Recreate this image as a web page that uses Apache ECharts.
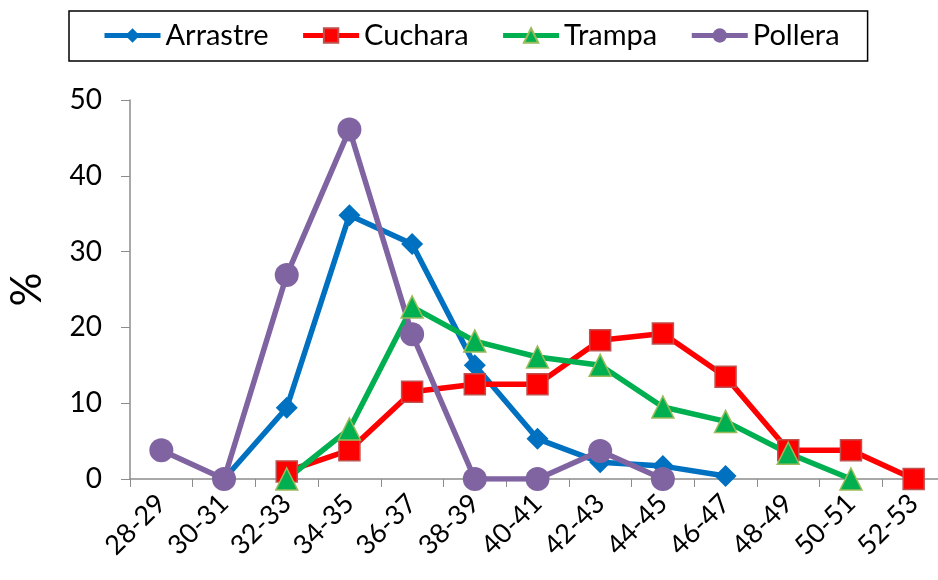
<!DOCTYPE html>
<html>
<head>
<meta charset="utf-8">
<script src="https://cdn.jsdelivr.net/npm/echarts@6/dist/echarts.min.js"></script>
<style>
  html, body { margin: 0; padding: 0; background: #fff; }
  #chart { width: 938px; height: 580px; }
</style>
</head>
<body>
<div id="chart"></div>
<script>
// clases de talla
var categories = ['28-29', '30-31', '32-33', '34-35', '36-37', '38-39', '40-41',
                  '42-43', '44-45', '46-47', '48-49', '50-51', '52-53'];
// porcentajes por arte de pesca
var arrastre = [null, 0, 9.4, 34.8, 31.0, 15.0, 5.3, 2.2, 1.7, 0.4, null, null, null];
var cuchara  = [null, null, 1.0, 3.8, 11.5, 12.5, 12.5, 18.3, 19.2, 13.5, 3.8, 3.8, 0];
var trampa   = [null, null, 0, 6.6, 22.7, 18.2, 16.1, 15.0, 9.5, 7.6, 3.4, 0, null];
var pollera  = [3.8, 0, 26.9, 46.1, 19.1, 0, 0, 3.7, 0, null, null, null, null];
var yTicks = { min: 0, max: 50, interval: 10 };

var FONT = 'Lato, "Open Sans", sans-serif';

function serie(name, data, color, symbol, size, border) {
    return {
        name: name,
        type: 'line',
        data: data,
        symbol: symbol,
        symbolSize: size,
        showAllSymbol: true,
        connectNulls: false,
        lineStyle: { color: color, width: 5.5 },
        itemStyle: { color: color, borderColor: border || color, borderWidth: border ? 1.5 : 0 },
        emphasis: { disabled: true }
    };
}

var myChart = echarts.init(document.getElementById('chart'));
var option = {
    animation: false,
    backgroundColor: '#fff',
    legend: {
        top: 11,
        left: 69,
        padding: [10, 28, 11, 33],
        itemGap: 32,
        itemWidth: 56,
        itemHeight: 18,
        borderColor: '#000',
        borderWidth: 1.5,
        lineStyle: { width: 5 },
        textStyle: { fontFamily: FONT, fontSize: 29, color: '#000' },
        data: ['Arrastre', 'Cuchara', 'Trampa', 'Pollera']
    },
    grid: {
        left: 130,
        top: 100,
        width: 815,
        height: 379,
        containLabel: false,
        outerBoundsMode: 'none'
    },
    xAxis: {
        type: 'category',
        data: categories,
        boundaryGap: true,
        axisLine: { lineStyle: { color: '#8c8c8c', width: 1.5 } },
        axisTick: { show: true, alignWithLabel: false, length: 8, lineStyle: { color: '#8c8c8c' } },
        axisLabel: { rotate: 45, interval: 0, margin: 20, color: '#000', fontFamily: FONT, fontSize: 27 }
    },
    yAxis: {
        type: 'value',
        min: yTicks.min,
        max: yTicks.max,
        interval: yTicks.interval,
        name: '%',
        nameLocation: 'middle',
        nameGap: 82,
        nameRotate: 90,
        nameTextStyle: { fontFamily: FONT, fontSize: 42, color: '#000' },
        splitLine: { show: false },
        axisLine: { show: true, lineStyle: { color: '#8c8c8c', width: 1.5 } },
        axisTick: { show: true, length: 9, lineStyle: { color: '#8c8c8c' } },
        axisLabel: { margin: 28, color: '#000', fontFamily: FONT, fontSize: 28 }
    },
    series: [
        serie('Arrastre', arrastre, '#0070C0', 'diamond', 22),
        serie('Cuchara', cuchara, '#FF0000', 'rect', 21, '#C0504D'),
        serie('Trampa', trampa, '#00B050', 'triangle', 22, '#9BBB59'),
        serie('Pollera', pollera, '#8064A2', 'circle', 24)
    ]
};
myChart.setOption(option);
window.onresize = function () {
    myChart.resize();
};
</script>
</body>
</html>
